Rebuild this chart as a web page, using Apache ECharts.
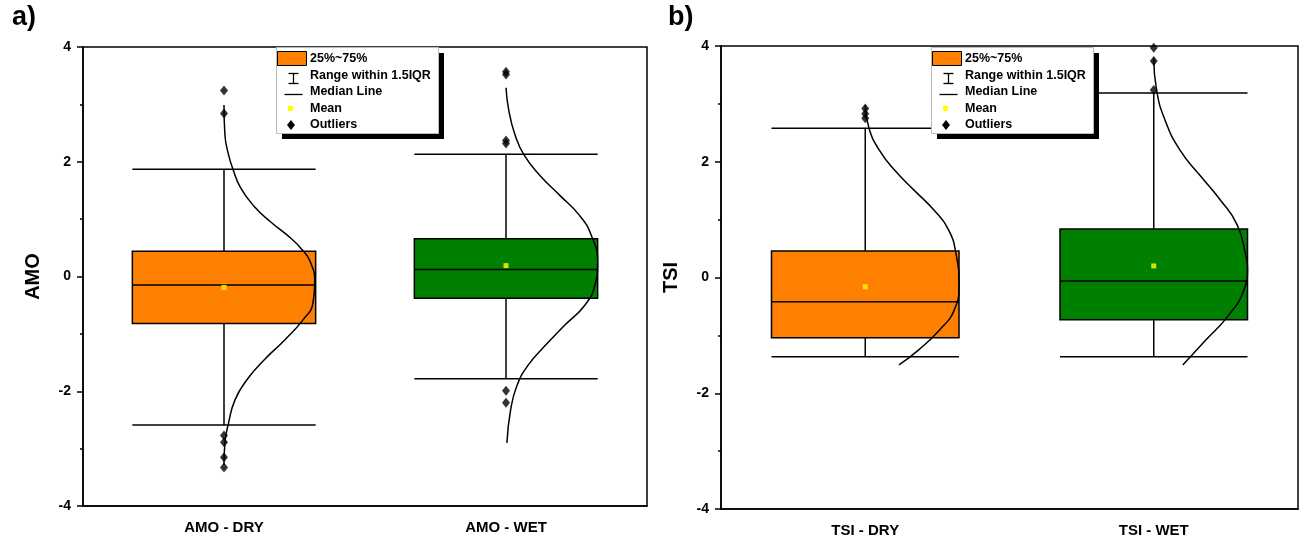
<!DOCTYPE html>
<html>
<head>
<meta charset="utf-8">
<title>AMO / TSI box plots</title>
<script src="https://cdn.jsdelivr.net/npm/echarts@6/dist/echarts.min.js"></script>
<style>
  html, body { margin: 0; padding: 0; background: #fff; }
  #chart { width: 1302px; height: 545px; }
</style>
</head>
<body>
<div id="chart"></div>
<script>
// categories
var amoCats = ["AMO - DRY", "AMO - WET"];
var tsiCats = ["TSI - DRY", "TSI - WET"];
var yTicks = [-4, -2, 0, 2, 4];

// box stats: [lower whisker, Q1, median, Q3, upper whisker]
var amoBoxes = [
  [-2.59, -0.82, -0.15, 0.44, 1.87],
  [-1.78, -0.38, 0.12, 0.66, 2.13]
];
var tsiBoxes = [
  [-1.37, -1.04, -0.42, 0.46, 2.58],
  [-1.37, -0.73, -0.06, 0.84, 3.19]
];

// means
var amoMeans = [-0.19, 0.19];
var tsiMeans = [-0.16, 0.20];

// outliers [category index, value]
var amoOutliers = [
  [0, 3.24], [0, 2.84], [0, -2.77], [0, -2.89], [0, -3.15], [0, -3.33],
  [1, 3.57], [1, 3.52], [1, 2.37], [1, 2.32], [1, -1.99], [1, -2.20]
];
var tsiOutliers = [
  [0, 2.92], [0, 2.83], [0, 2.75],
  [1, 3.97], [1, 3.74], [1, 3.24]
];

// distribution curves: [value, relative density 0..1]
var amoDryCurve = [[2.99,0],[2.47,0.01],[2.12,0.05],[1.86,0.10],[1.55,0.18],[1.22,0.33],[0.95,0.51],[0.72,0.69],[0.49,0.84],[0.26,0.94],[-0.09,0.99],[-0.47,0.97],[-0.76,0.86],[-1.11,0.66],[-1.45,0.44],[-1.80,0.25],[-2.15,0.12],[-2.55,0.05],[-2.90,0.01],[-3.28,0]];
var amoWetCurve = [[3.29,0],[2.90,0.03],[2.46,0.10],[2.11,0.20],[1.76,0.37],[1.41,0.59],[1.07,0.80],[0.72,0.93],[0.25,1.0],[-0.15,0.97],[-0.50,0.86],[-0.85,0.64],[-1.20,0.43],[-1.55,0.24],[-1.90,0.12],[-2.33,0.05],[-2.90,0.01]];
var tsiDryCurve = [[2.98,0],[2.58,0.04],[2.20,0.15],[1.86,0.31],[1.51,0.52],[1.17,0.73],[0.82,0.89],[0.39,0.97],[-0.13,1.0],[-0.56,0.95],[-0.91,0.79],[-1.25,0.57],[-1.51,0.36]];
var tsiWetCurve = [[3.79,0],[3.24,0.03],[2.72,0.12],[2.20,0.28],[1.77,0.49],[1.34,0.71],[0.91,0.89],[0.39,0.98],[0.16,1.0],[-0.22,0.96],[-0.65,0.80],[-1.09,0.55],[-1.51,0.31]];

var boxColors = ["#FF8000", "#008000"];
var FONT = "Liberation Sans";
var HALF = 0.325; // half box width in category units

function curveData(curve, idx) {
  return curve.map(function (p) { return [idx + p[1] * HALF, p[0]]; });
}

function yAxisFor(grid, name, gap) {
  return {
    type: "value", gridIndex: grid, min: yTicks[0], max: yTicks[yTicks.length - 1], interval: 2,
    name: name, nameLocation: "middle", nameGap: gap, nameRotate: 90,
    nameTextStyle: { fontFamily: FONT, fontWeight: "bold", fontSize: 20, color: "#000" },
    axisLine: { show: true, onZero: false, lineStyle: { color: "#000", width: 1.5 } },
    axisTick: { show: true, length: 6, lineStyle: { color: "#000", width: 1.5 } },
    minorTick: { show: true, splitNumber: 2, length: 3, lineStyle: { color: "#000", width: 1.5 } },
    splitLine: { show: false },
    axisLabel: { margin: 12, fontFamily: FONT, fontWeight: "bold", fontSize: 14, color: "#000" }
  };
}

function catAxisFor(grid, cats) {
  return {
    type: "category", gridIndex: grid, data: cats,
    axisLine: { show: true, onZero: false, lineStyle: { color: "#000", width: 1.5 } },
    axisTick: { show: false },
    axisLabel: { margin: 14, fontFamily: FONT, fontWeight: "bold", fontSize: 15, color: "#000" }
  };
}

function hiddenX(grid) {
  return { type: "value", gridIndex: grid, min: -0.5, max: 1.5, show: false,
    axisLine: { onZero: false } };
}

function boxSeries(xi, yi, boxes) {
  return {
    type: "boxplot", xAxisIndex: xi, yAxisIndex: yi, z: 2,
    boxWidth: ["65%", "65%"],
    itemStyle: { borderColor: "#000", borderWidth: 1.5 },
    data: boxes.map(function (b, i) {
      return { value: b, itemStyle: { color: boxColors[i], borderColor: "#000", borderWidth: 1.5 } };
    })
  };
}

function curveSeries(xi, yi, data) {
  return {
    type: "line", xAxisIndex: xi, yAxisIndex: yi, z: 3, smooth: true, showSymbol: false,
    lineStyle: { color: "#000", width: 1.5 }, data: data
  };
}

function legendBlock(x, y) {
  var txt = function (t, ty) {
    return { type: "text", left: x + 34, top: ty - 7, z: 103,
      style: { text: t, fontFamily: FONT, fontWeight: "bold", fontSize: 12.5, fill: "#000" } };
  };
  return [
    { type: "rect", left: x + 6, top: y + 6, shape: { width: 162, height: 86 }, style: { fill: "#000" }, z: 100 },
    { type: "rect", left: x, top: y, shape: { width: 162, height: 86 }, style: { fill: "#fff", stroke: "#bbb", lineWidth: 1 }, z: 101 },
    { type: "rect", left: x + 1, top: y + 4, shape: { width: 29, height: 14 }, style: { fill: "#FF8000", stroke: "#000", lineWidth: 1 }, z: 102 },
    { type: "group", left: x + 10, top: y + 24, z: 102, children: [
      { type: "line", z: 102, shape: { x1: 0, y1: 0, x2: 10, y2: 0 }, style: { stroke: "#000", lineWidth: 1.3 } },
      { type: "line", z: 102, shape: { x1: 5, y1: 0, x2: 5, y2: 10 }, style: { stroke: "#000", lineWidth: 1.3 } },
      { type: "line", z: 102, shape: { x1: 0, y1: 10, x2: 10, y2: 10 }, style: { stroke: "#000", lineWidth: 1.3 } }
    ] },
    { type: "line", left: x + 6, top: y + 45, shape: { x1: 0, y1: 0, x2: 18, y2: 0 }, style: { stroke: "#000", lineWidth: 1.3 }, z: 102 },
    { type: "rect", left: x + 12, top: y + 59, shape: { width: 5, height: 5 }, style: { fill: "#FFFF00" }, z: 102 },
    { type: "polygon", left: x + 11, top: y + 73, shape: { points: [[4, 0], [8, 5], [4, 10], [0, 5]] }, style: { fill: "#000" }, z: 102 },
    txt("25%~75%", y + 12), txt("Range within 1.5IQR", y + 29), txt("Median Line", y + 45),
    txt("Mean", y + 62), txt("Outliers", y + 78)
  ];
}

var chart = echarts.init(document.getElementById("chart"));
var option = {
  animation: false,
  backgroundColor: "#fff",
  grid: [
    { left: 83, right: 655, top: 47, bottom: 39, show: true, borderColor: "#000", borderWidth: 1.5, backgroundColor: "transparent" },
    { left: 721, right: 4, top: 46, bottom: 36, show: true, borderColor: "#000", borderWidth: 1.5, backgroundColor: "transparent" }
  ],
  xAxis: [catAxisFor(0, amoCats), catAxisFor(1, tsiCats), hiddenX(0), hiddenX(1)],
  yAxis: [yAxisFor(0, "AMO", 40), yAxisFor(1, "TSI", 40)],
  series: [
    boxSeries(0, 0, amoBoxes),
    boxSeries(1, 1, tsiBoxes),
    curveSeries(2, 0, curveData(amoDryCurve, 0)),
    curveSeries(2, 0, curveData(amoWetCurve, 1)),
    curveSeries(3, 1, curveData(tsiDryCurve, 0)),
    curveSeries(3, 1, curveData(tsiWetCurve, 1)),
    {
      type: "scatter", xAxisIndex: 0, yAxisIndex: 0, z: 4, symbol: "diamond", symbolSize: [8, 10],
      itemStyle: { color: "#000" }, data: amoOutliers
    },
    {
      type: "scatter", xAxisIndex: 1, yAxisIndex: 1, z: 4, symbol: "diamond", symbolSize: [8, 10],
      itemStyle: { color: "#000" }, data: tsiOutliers
    },
    {
      type: "scatter", xAxisIndex: 0, yAxisIndex: 0, z: 5, symbol: "rect", symbolSize: 5,
      itemStyle: { color: "#FFFF00" }, data: amoMeans.map(function (m, i) { return [i, m]; })
    },
    {
      type: "scatter", xAxisIndex: 1, yAxisIndex: 1, z: 5, symbol: "rect", symbolSize: 5,
      itemStyle: { color: "#FFFF00" }, data: tsiMeans.map(function (m, i) { return [i, m]; })
    }
  ],
  graphic: [
    { type: "text", left: 12, top: 4, style: { text: "a)", fontFamily: FONT, fontWeight: "bold", fontSize: 27, fill: "#000" } },
    { type: "text", left: 668, top: 4, style: { text: "b)", fontFamily: FONT, fontWeight: "bold", fontSize: 27, fill: "#000" } }
  ].concat(legendBlock(276, 47), legendBlock(931, 47))
};
chart.setOption(option);
</script>
</body>
</html>
